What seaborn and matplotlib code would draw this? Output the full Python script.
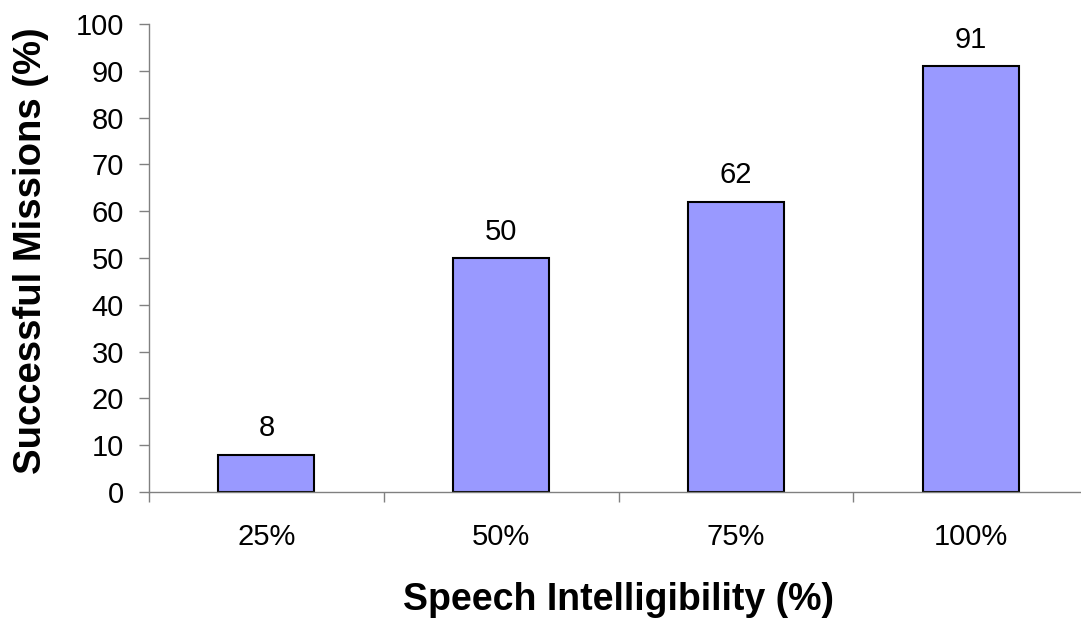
import matplotlib
matplotlib.use("Agg")
import matplotlib.pyplot as plt
import seaborn as sns
import pandas as pd

# Données
intelligibility = ["25%", "50%", "75%", "100%"]
missions = [8, 50, 62, 91]
y_ticks = list(range(0, 101, 10))

df = pd.DataFrame({"Intelligibility": intelligibility, "Missions": missions})

sns.set_style("white")
plt.rcParams['font.family'] = ['Liberation Sans', 'DejaVu Sans']
plt.rcParams['text.color'] = 'black'
plt.rcParams['xtick.color'] = 'black'
plt.rcParams['ytick.color'] = 'black'
plt.rcParams['axes.labelcolor'] = 'black'

fig = plt.figure(figsize=(10.81, 6.2), dpi=100)
ax = fig.add_axes([149 / 1081, 1 - 492 / 620, (1088 - 149) / 1081, 468 / 620])

sns.barplot(data=df, x="Intelligibility", y="Missions", color="#9999FF",
            edgecolor="black", linewidth=1.5, width=0.41, saturation=1, ax=ax)

for i, v in enumerate(missions):
    ax.annotate(str(v), (i, v), xytext=(0, 9), textcoords="offset points",
                ha="center", va="bottom", fontsize=21)

ax.set_xlim(-0.5, 3.5)
ax.set_ylim(0, 100)
ax.set_yticks(y_ticks)
ax.tick_params(axis="y", length=7, width=1, color="#808080", labelsize=21, pad=11, left=True)
ax.set_xticks([-0.5, 0.5, 1.5, 2.5, 3.5], minor=True)
ax.tick_params(axis="x", which="major", length=0, labelsize=21, pad=22)
ax.tick_params(axis="x", which="minor", length=7, width=1, color="#808080", bottom=True)

for s in ["top", "right"]:
    ax.spines[s].set_visible(False)
for s in ["left", "bottom"]:
    ax.spines[s].set_color("#808080")
    ax.spines[s].set_linewidth(1)

ax.set_xlabel("Speech Intelligibility (%)", fontsize=27, fontweight="bold", labelpad=23)
ax.set_ylabel("Successful Missions (%)", fontsize=27.5, fontweight="bold", labelpad=19)
ax.yaxis.label.set_y(0.515)

fig.savefig("out.png", dpi=100)
